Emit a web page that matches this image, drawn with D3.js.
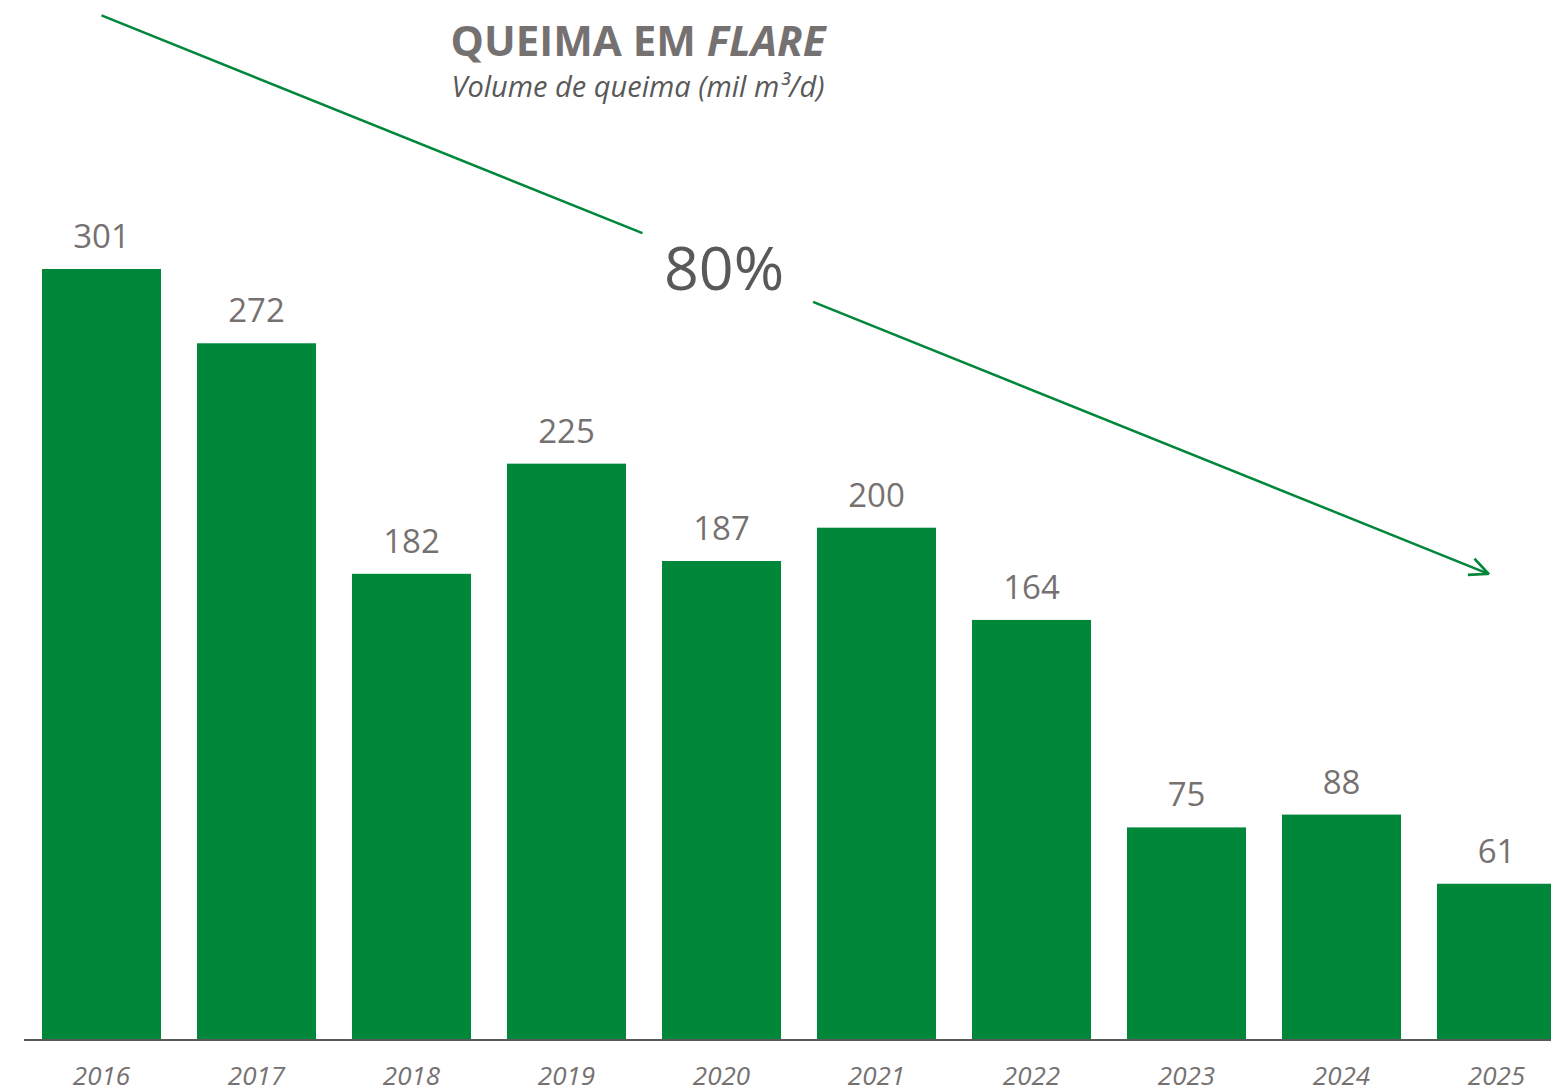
<!DOCTYPE html>
<html>
<head>
<meta charset="utf-8">
<script src="https://cdn.jsdelivr.net/npm/d3@7"></script>
<style>
  body { margin: 0; background: #fff; }
  text { font-family: "Open Sans", sans-serif; }
</style>
</head>
<body>
<div id="chart"></div>
<script>
var years = ["2016", "2017", "2018", "2019", "2020", "2021", "2022", "2023", "2024", "2025"]
// bar heights as drawn in the picture (the 2023 bar is drawn taller than its label)
var volumes = [301, 272, 182, 225, 187, 200, 164, 83, 88, 61]
var labels = ["301", "272", "182", "225", "187", "200", "164", "75", "88", "61"]
var reduction = "80%"
// trend arrow, in data units (year, volume)
var trendStart = ["2016", 400]
var trendEnd = ["2025", 182]

var width = 1551, height = 1091
var green = "#00873a"
var gray = "#767171"

var svg = d3.select("#chart")
  .append("svg")
  .attr("width", width)
  .attr("height", height)

var x = d3.scaleBand()
  .domain(years)
  .range([24, 1574])
  .paddingInner(0.232)
  .paddingOuter(0.116)

var y = d3.scaleLinear()
  .domain([0, 301])
  .range([1040, 269])

// bars
svg.selectAll("rect.bar")
  .data(volumes)
  .enter()
  .append("rect")
    .attr("class", "bar")
    .attr("x", (d, i) => x(years[i]))
    .attr("y", d => y(d))
    .attr("width", x.bandwidth())
    .attr("height", d => y(0) - y(d))
    .style("fill", green)

// value labels
svg.selectAll("text.val")
  .data(volumes)
  .enter()
  .append("text")
    .attr("class", "val")
    .attr("x", (d, i) => x(years[i]) + x.bandwidth() / 2)
    .attr("y", d => y(d) - 21)
    .attr("text-anchor", "middle")
    .attr("font-size", "33px")
    .style("fill", gray)
    .text((d, i) => labels[i])

// x axis
var xAxis = svg.append("g")
  .attr("transform", "translate(0," + y(0) + ")")
  .call(d3.axisBottom(x).tickSize(0).tickPadding(27))
xAxis.select(".domain")
  .attr("d", "M24,0H" + width)
  .attr("stroke", "#595959")
  .attr("stroke-width", 2)
xAxis.selectAll(".tick text")
  .attr("font-size", "26px")
  .attr("font-style", "italic")
  .attr("font-family", "Open Sans, sans-serif")
  .style("fill", gray)

// title
svg.append("text")
  .attr("x", 638)
  .attr("y", 56)
  .attr("text-anchor", "middle")
  .attr("font-size", "42px")
  .attr("font-weight", "bold")
  .style("fill", gray)
  .text("QUEIMA EM ")
  .append("tspan")
    .attr("font-style", "italic")
    .text("FLARE")

svg.append("text")
  .attr("x", 638)
  .attr("y", 97)
  .attr("text-anchor", "middle")
  .attr("font-size", "29px")
  .attr("font-style", "italic")
  .style("fill", "#595959")
  .text("Volume de queima (mil m³/d)")

// trend arrow with a gap for the label
svg.append("defs").append("marker")
  .attr("id", "head")
  .attr("viewBox", "0 0 20 20")
  .attr("refX", 19)
  .attr("refY", 10)
  .attr("markerWidth", 22)
  .attr("markerHeight", 22)
  .attr("markerUnits", "userSpaceOnUse")
  .attr("orient", "auto")
  .append("path")
    .attr("d", "M2,2L19,10L2,18")
    .attr("fill", "none")
    .attr("stroke", green)
    .attr("stroke-width", 2.5)

var x0 = x(trendStart[0]) + x.bandwidth() / 2, y0 = y(trendStart[1])
var x1 = x(trendEnd[0]) + x.bandwidth() / 2 - 8, y1 = y(trendEnd[1])
var lerp = t => [x0 + (x1 - x0) * t, y0 + (y1 - y0) * t]
var gapA = lerp(0.39), gapB = lerp(0.513)

svg.append("line")
  .attr("x1", x0).attr("y1", y0)
  .attr("x2", gapA[0]).attr("y2", gapA[1])
  .attr("stroke", green).attr("stroke-width", 2.5)

svg.append("line")
  .attr("x1", gapB[0]).attr("y1", gapB[1])
  .attr("x2", x1).attr("y2", y1)
  .attr("stroke", green).attr("stroke-width", 2.5)
  .attr("marker-end", "url(#head)")

svg.append("text")
  .attr("x", 724)
  .attr("y", 290)
  .attr("text-anchor", "middle")
  .attr("font-size", "61px")
  .style("fill", "#595959")
  .text(reduction)
</script>
</body>
</html>
